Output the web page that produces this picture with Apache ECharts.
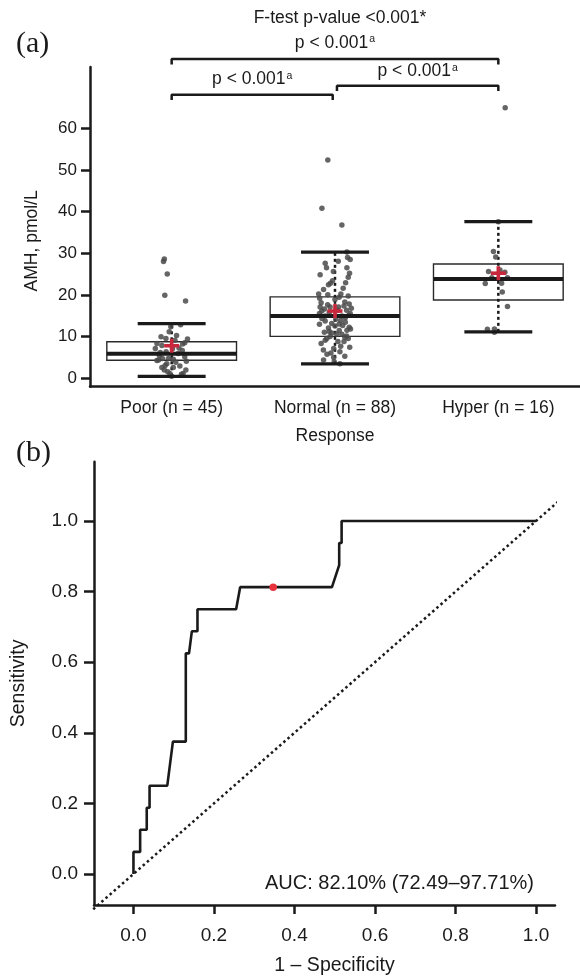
<!DOCTYPE html>
<html>
<head>
<meta charset="utf-8">
<script src="https://cdn.jsdelivr.net/npm/echarts@6/dist/echarts.min.js"></script>
<style>
  html, body { margin: 0; padding: 0; background: #fff; }
  #chart { width: 580px; height: 979px; }
</style>
</head>
<body>
<div id="chart"></div>
<script>
// ---- panel (a): AMH by response group ----
const categories = ['Poor (n = 45)', 'Normal (n = 88)', 'Hyper (n = 16)'];
const whiskerLow = [0.4, 3.4, 11.1];
const q1 = [4.25, 10.0, 18.75];
const medians = [5.8, 14.9, 23.8];
const q3 = [8.7, 19.5, 27.4];
const whiskerHigh = [13.1, 30.3, 37.6];
const means = [7.75, 16.1, 25.2];
const amhTicks = [0, 10, 20, 30, 40, 50, 60];

// jittered raw points: [offset from group centre, AMH]
const poorPts = [
  [-0.045, 28.6], [-0.05, 28.0], [-0.027, 25.0], [-0.042, 19.9], [0.085, 18.5], [0.055, 12.8],
  [-0.015, 11.1], [-0.09, 8.3], [-0.06, 7.8], [-0.1, 7.1], [-0.035, 9.5], [0.02, 9.1],
  [0.097, 9.4], [0.08, 8.5], [0.067, 8.2], [-0.07, 6.1], [-0.034, 6.3], [-0.08, 4.3],
  [-0.057, 4.7], [-0.02, 4.7], [0.01, 4.5], [0.08, 5.1], [-0.09, 4.2], [-0.03, 3.4],
  [-0.06, 2.5], [0.01, 2.5], [0.05, 2.9], [-0.045, 1.9], [-0.024, 1.5], [0.087, 1.9],
  [0.07, 1.1], [-0.01, 1.0], [0.06, 0.9], [0.0, 0.4], [0.03, 10.2], [-0.005, 12.3],
  [0.045, 7.2], [-0.075, 5.4], [0.065, 6.6], [0.025, 3.8], [-0.04, 3.0], [0.04, 5.9],
  [0.005, 7.0], [-0.065, 9.9], [0.09, 4.0]
];
const normalPts = [
  [-0.044, 52.4], [-0.08, 40.8], [0.042, 36.8], [0.073, 30.3], [0.077, 29.0], [0.093, 28.5],
  [-0.052, 26.5], [0.073, 26.5], [-0.01, 25.6], [0.089, 25.2], [-0.091, 24.8], [0.081, 24.2],
  [-0.028, 22.8], [-0.04, 22.4], [-0.1, 20.2], [-0.044, 20.0], [0.036, 20.2], [0.081, 19.7],
  [-0.094, 19.2], [0.0, 18.9], [0.06, 18.3], [0.087, 17.8], [-0.091, 17.1], [-0.03, 17.1],
  [0.022, 17.1], [0.1, 16.8], [-0.081, 16.1], [0.071, 16.3], [-0.095, 15.5], [0.093, 15.5],
  [-0.06, 14.9], [0.042, 14.9], [0.063, 14.5], [-0.06, 13.7], [0.063, 13.4], [0.026, 13.0],
  [-0.02, 13.1], [0.0, 12.5], [0.047, 12.6], [0.087, 12.2], [0.026, 11.4], [0.073, 11.5],
  [-0.035, 11.2], [-0.02, 10.8], [0.042, 10.5], [0.071, 10.1], [-0.03, 10.0], [-0.05, 9.5],
  [0.081, 9.5], [-0.06, 9.1], [0.055, 8.8], [0.018, 8.8], [-0.071, 6.7], [-0.008, 7.1],
  [0.03, 6.3], [-0.049, 5.7], [0.06, 5.2], [-0.07, 4.3], [-0.008, 4.9], [-0.07, 21.3],
  [0.05, 21.6], [-0.015, 23.4], [0.065, 22.9], [-0.085, 18.1], [0.025, 19.4], [-0.045, 17.6],
  [0.055, 17.3], [-0.065, 16.6], [0.015, 16.2], [-0.035, 15.8], [0.085, 15.1], [-0.08, 14.3],
  [0.005, 14.1], [0.035, 13.8], [-0.095, 12.9], [-0.04, 12.0], [0.095, 11.8], [-0.065, 11.0],
  [0.01, 10.6], [0.06, 9.8], [-0.085, 8.3], [0.035, 7.6], [-0.025, 6.0], [0.09, 7.4],
  [-0.005, 3.9], [0.03, 3.4], [-0.06, 27.6], [0.02, 28.1]
];
const hyperPts = [
  [0.042, 65.0], [0.0, 37.6], [-0.03, 30.4], [-0.016, 29.1], [-0.06, 25.6], [0.04, 25.4],
  [-0.04, 24.1], [0.056, 24.1], [-0.08, 22.7], [0.02, 22.8], [0.024, 20.7], [0.056, 17.2],
  [-0.067, 11.7], [-0.024, 11.8], [-0.024, 11.0], [0.01, 26.0]
];

// pairwise comparison brackets: [from group, to group, bracket height, label height]
const brackets = [
  [0, 2, 76.7, 80.6],
  [0, 0.986, 68.15, 71.8],
  [1.012, 2, 70.3, 73.8]
];
const bracketLabel = 'p < 0.001';

// ---- panel (b): ROC curve ----
const rocFpr = [0, 0, 0.0166, 0.0166, 0.033, 0.033, 0.04, 0.04, 0.084, 0.098, 0.13, 0.13,
  0.138, 0.145, 0.159, 0.159, 0.255, 0.265, 0.493, 0.511, 0.511, 0.517, 0.517, 1.0];
const rocTpr = [0, 0.0625, 0.0625, 0.125, 0.125, 0.1875, 0.1875, 0.25, 0.25, 0.375, 0.375, 0.625,
  0.625, 0.6875, 0.6875, 0.75, 0.75, 0.8125, 0.8125, 0.875, 0.9375, 0.9375, 1.0, 1.0];
const cutoffPoint = [0.347, 0.8125];
const refLine = [-0.1, 1.085];
const rocTicks = [0, 0.2, 0.4, 0.6, 0.8, 1.0];

const FONT = 'Liberation Sans, Arial, sans-serif';
const SERIF = 'Liberation Serif, Times New Roman, serif';
const INK = '#1a1a1a';

const groupPts = [poorPts, normalPts, hyperPts];
const jitter = [];
groupPts.forEach(function (pts, i) {
  pts.forEach(function (p) { jitter.push([i + p[0], p[1]]); });
});
const boxData = categories.map(function (c, i) {
  return [i, whiskerLow[i], q1[i], medians[i], q3[i], whiskerHigh[i], means[i]];
});

function renderBody(params, api) {
  const i = api.value(0);
  const lo = api.coord([i, api.value(1)]);
  const b1 = api.coord([i, api.value(2)]);
  const b3 = api.coord([i, api.value(4)]);
  const hi = api.coord([i, api.value(5)]);
  const half = api.size([0.397, 0])[0];
  return {
    type: 'group',
    children: [
      { type: 'rect', shape: { x: lo[0] - half, y: b3[1], width: 2 * half, height: b1[1] - b3[1] },
        style: { fill: '#fff', stroke: '#2a2a2a', lineWidth: 1.4 } },
      { type: 'line', shape: { x1: lo[0], y1: lo[1], x2: hi[0], y2: hi[1] },
        style: { stroke: INK, lineWidth: 2.5, lineDash: [3, 3] } }
    ]
  };
}

function renderMarks(params, api) {
  const i = api.value(0);
  const lo = api.coord([i, api.value(1)]);
  const med = api.coord([i, api.value(3)]);
  const hi = api.coord([i, api.value(5)]);
  const mn = api.coord([i, api.value(6)]);
  const half = api.size([0.397, 0])[0];
  const cap = api.size([0.208, 0])[0];
  return {
    type: 'group',
    children: [
      { type: 'rect', shape: { x: med[0] - half, y: med[1] - 2, width: 2 * half, height: 4 }, style: { fill: INK } },
      { type: 'rect', shape: { x: lo[0] - cap, y: lo[1] - 1.6, width: 2 * cap, height: 3.3 }, style: { fill: INK } },
      { type: 'rect', shape: { x: hi[0] - cap, y: hi[1] - 1.6, width: 2 * cap, height: 3.3 }, style: { fill: INK } },
      { type: 'rect', shape: { x: mn[0] - 7.5, y: mn[1] - 1.8, width: 15, height: 3.6 }, style: { fill: '#c8283c' } },
      { type: 'rect', shape: { x: mn[0] - 1.8, y: mn[1] - 7, width: 3.6, height: 14 }, style: { fill: '#c8283c' } }
    ]
  };
}

const bracketSeries = brackets.map(function (b) {
  return {
    type: 'line', xAxisIndex: 1, yAxisIndex: 0, clip: false, symbol: 'none', silent: true,
    lineStyle: { color: INK, width: 2.5 },
    data: [[b[0], b[2] - 1.3], [b[0], b[2]], [b[1], b[2]], [b[1], b[2] - 1.3]],
    z: 5
  };
});

const bracketLabels = {
  type: 'scatter', xAxisIndex: 1, yAxisIndex: 0, clip: false, symbolSize: 0, silent: true,
  itemStyle: { opacity: 1 },
  data: brackets.map(function (b) { return [(b[0] + b[1]) / 2, b[3]]; }),
  label: {
    show: true, position: 'inside', opacity: 1,
    formatter: bracketLabel + '{sup|a}',
    color: INK, fontSize: 17.5, fontFamily: FONT,
    rich: { sup: { fontSize: 10.5, fontFamily: FONT, color: INK, verticalAlign: 'top', padding: [0, 0, 7, 1] } }
  }
};

const rocData = rocFpr.map(function (x, i) { return [x, rocTpr[i]]; });

const axisLineStyle = { show: true, onZero: false, lineStyle: { color: INK, width: 2.5 } };
const tickStyle = { lineStyle: { color: INK, width: 2.5 } };

const chart = echarts.init(document.getElementById('chart'));
const option = {
  animation: false,
  backgroundColor: '#fff',
  textStyle: { fontFamily: FONT },
  grid: [
    { left: 90, top: 67, width: 494.4, height: 319.7 },
    { left: 94, top: 461.7, width: 461, height: 443.3 }
  ],
  xAxis: [
    {
      type: 'category', gridIndex: 0, data: categories, boundaryGap: true,
      name: 'Response', nameLocation: 'middle', nameGap: 40,
      nameTextStyle: { color: INK, fontSize: 17.5, fontFamily: FONT },
      axisLine: axisLineStyle,
      axisTick: Object.assign({ alignWithLabel: true, length: 8 }, tickStyle),
      axisLabel: { color: INK, fontSize: 17.5, margin: 12, fontFamily: FONT }
    },
    { type: 'value', gridIndex: 0, min: -0.5, max: 2.5, show: false },
    {
      type: 'value', gridIndex: 1, min: -0.098, max: 1.047,
      name: '1 – Specificity', nameLocation: 'middle', nameGap: 51,
      nameTextStyle: { color: INK, fontSize: 19.5, fontFamily: FONT, padding: [0, 0, 0, 20] },
      splitLine: { show: false },
      axisLine: axisLineStyle,
      axisTick: Object.assign({ show: true, length: 9, customValues: rocTicks }, tickStyle),
      axisLabel: { color: INK, fontSize: 19, margin: 21, fontFamily: FONT, customValues: rocTicks,
        formatter: function (v) { return v.toFixed(1); } }
    }
  ],
  yAxis: [
    {
      type: 'value', gridIndex: 0, min: -2.1, max: 74.8,
      name: 'AMH, pmol/L', nameLocation: 'middle', nameGap: 49, nameRotate: 90,
      nameTextStyle: { color: INK, fontSize: 17.5, fontFamily: FONT, padding: [0, 28, 0, 0] },
      splitLine: { show: false },
      axisLine: axisLineStyle,
      axisTick: Object.assign({ show: true, length: 9, customValues: amhTicks }, tickStyle),
      axisLabel: { color: INK, fontSize: 17, margin: 13, fontFamily: FONT, customValues: amhTicks }
    },
    {
      type: 'value', gridIndex: 1, min: -0.088, max: 1.168,
      name: 'Sensitivity', nameLocation: 'middle', nameGap: 65, nameRotate: 90,
      nameTextStyle: { color: INK, fontSize: 19.5, fontFamily: FONT },
      splitLine: { show: false },
      axisLine: axisLineStyle,
      axisTick: Object.assign({ show: true, length: 10, customValues: rocTicks }, tickStyle),
      axisLabel: { color: INK, fontSize: 19, margin: 16, fontFamily: FONT, customValues: rocTicks,
        formatter: function (v) { return v.toFixed(1); } }
    }
  ],
  graphic: [
    { type: 'text', x: 340, y: 18,
      style: { text: 'F-test p-value <0.001*', fill: INK, font: '17.5px ' + FONT, textAlign: 'center', textVerticalAlign: 'middle' } },
    { type: 'text', x: 16, y: 44,
      style: { text: '(a)', fill: INK, font: '30px ' + SERIF, textAlign: 'left', textVerticalAlign: 'middle' } },
    { type: 'text', x: 16, y: 453,
      style: { text: '(b)', fill: INK, font: '30px ' + SERIF, textAlign: 'left', textVerticalAlign: 'middle' } },
    { type: 'text', x: 534, y: 883,
      style: { text: 'AUC: 82.10% (72.49–97.71%)', fill: INK, font: '20px ' + FONT, textAlign: 'right', textVerticalAlign: 'middle' } }
  ],
  series: [
    { type: 'custom', xAxisIndex: 1, yAxisIndex: 0, renderItem: renderBody, data: boxData,
      encode: { x: 0, y: [1, 2, 3, 4, 5, 6] }, z: 1, silent: true },
    { type: 'scatter', xAxisIndex: 1, yAxisIndex: 0, data: jitter, symbolSize: 5.5,
      itemStyle: { color: '#4a4a4a', opacity: 0.85 }, z: 2, silent: true },
    { type: 'custom', xAxisIndex: 1, yAxisIndex: 0, renderItem: renderMarks, data: boxData,
      encode: { x: 0, y: [1, 2, 3, 4, 5, 6] }, z: 3, silent: true },
    ...bracketSeries,
    bracketLabels,
    { type: 'line', xAxisIndex: 2, yAxisIndex: 1, clip: false, symbol: 'none', silent: true,
      data: [[refLine[0], refLine[0]], [refLine[1], refLine[1]]],
      lineStyle: { color: INK, width: 2.5, type: [2.5, 3] }, z: 2 },
    { type: 'line', xAxisIndex: 2, yAxisIndex: 1, symbol: 'none', silent: true,
      data: rocData, lineStyle: { color: INK, width: 2.6 }, z: 3 },
    { type: 'scatter', xAxisIndex: 2, yAxisIndex: 1, data: [cutoffPoint], symbolSize: 7.5,
      itemStyle: { color: '#e8333f', opacity: 1 }, z: 4, silent: true }
  ]
};
chart.setOption(option);
</script>
</body>
</html>
